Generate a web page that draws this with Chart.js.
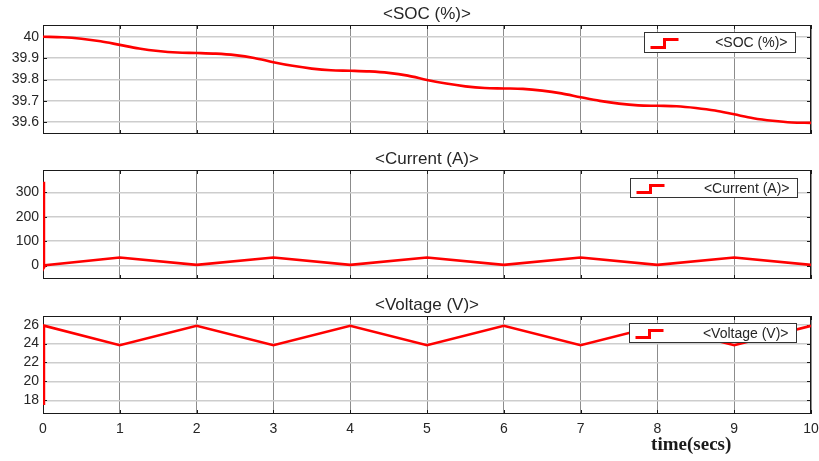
<!DOCTYPE html>
<html><head><meta charset="utf-8">
<script src="https://cdn.jsdelivr.net/npm/chart.js@4.4.0/dist/chart.umd.min.js"></script>
<style>
html,body{margin:0;padding:0;background:#fff;width:819px;height:461px;overflow:hidden;}
.p{position:absolute;left:0;width:819px;}
</style></head><body>
<div class="p" style="top:0;height:140px"><canvas id="c1"></canvas></div>
<div class="p" style="top:140px;height:145px"><canvas id="c2"></canvas></div>
<div class="p" style="top:285px;height:176px"><canvas id="c3"></canvas></div>
<script>
// ---- data ----
const timeTicks = [0,1,2,3,4,5,6,7,8,9,10];

const socTime = [0,0.25,0.5,0.75,1,1.25,1.5,1.75,2,2.25,2.5,2.75,3,3.25,3.5,3.75,4,4.25,4.5,4.75,5,5.25,5.5,5.75,6,6.25,6.5,6.75,7,7.25,7.5,7.75,8,8.25,8.5,8.75,9,9.25,9.5,9.75,10];
const socValues = [40.000,39.998,39.991,39.979,39.962,39.945,39.933,39.926,39.924,39.921,39.914,39.901,39.881,39.864,39.851,39.843,39.841,39.838,39.831,39.818,39.798,39.781,39.768,39.760,39.758,39.756,39.748,39.735,39.717,39.700,39.687,39.679,39.677,39.675,39.667,39.655,39.637,39.619,39.607,39.599,39.597];
const socTicks = [39.6,39.7,39.8,39.9,40];

const currentTime = [0.012,0.012,0.03,1,2,3,4,5,6,7,8,9,10];
const currentValues = [344,-8,2,33,3,33,3,33,3,33,3,33,3];
const currentTicks = [0,100,200,300];

const voltageTime = [0.012,0.012,1,2,3,4,5,6,7,8,9,10];
const voltageValues = [17.5,25.9,23.83,25.88,23.83,25.88,23.83,25.88,23.83,25.88,23.83,25.88];
const voltageTicks = [18,20,22,24,26];

const titles = ['<SOC (%)>', '<Current (A)>', '<Voltage (V)>'];
const legendLabels = ['<SOC (%)>', '<Current (A)>', '<Voltage (V)>'];
const xAxisLabel = 'time(secs)';

// ---- drawing ----
const TXT = '#262626';
const decor = {
  id: 'decor',
  beforeDatasetsDraw(chart, args, o) {
    const {ctx, chartArea: a} = chart;
    ctx.save();
    ctx.strokeStyle = '#1a1a1a';
    ctx.lineWidth = 1;
    ctx.beginPath();
    chart.scales.y.ticks.forEach(t => {
      const y = Math.round(chart.scales.y.getPixelForValue(t.value)) + 0.5;
      ctx.moveTo(a.left, y); ctx.lineTo(a.left + 4, y);
      ctx.moveTo(a.right, y); ctx.lineTo(a.right - 4, y);
    });
    chart.scales.x.ticks.forEach(t => {
      const x = Math.round(chart.scales.x.getPixelForValue(t.value)) + 0.5;
      ctx.moveTo(x, a.top); ctx.lineTo(x, a.top + 4);
      ctx.moveTo(x, a.bottom); ctx.lineTo(x, a.bottom - 4);
    });
    ctx.stroke();
    ctx.strokeRect(Math.round(a.left) + 0.5, Math.round(a.top) + 0.5, Math.round(a.right - a.left) - 1, Math.round(a.bottom - a.top) - 1);
    ctx.restore();
  },
  afterDatasetsDraw(chart, args, o) {
    const {ctx, chartArea: a} = chart;
    const L = o.legend;
    const bx = Math.round(a.right - L.right - L.width) + 0.5;
    const by = Math.round(a.top + L.top) + 0.5;
    ctx.save();
    ctx.fillStyle = '#fff';
    ctx.fillRect(bx, by, L.width, L.height);
    ctx.strokeStyle = '#333';
    ctx.lineWidth = 1;
    ctx.strokeRect(bx, by, L.width, L.height);
    const x0 = bx + 6, x1 = bx + 34, xm = (x0 + x1) / 2;
    const yb = by + L.height - 5, yt = by + 7;
    ctx.strokeStyle = '#ff0000';
    ctx.lineWidth = 3;
    ctx.beginPath();
    ctx.moveTo(x0, yb); ctx.lineTo(xm, yb); ctx.lineTo(xm, yt); ctx.lineTo(x1, yt);
    ctx.stroke();
    ctx.fillStyle = TXT;
    ctx.font = '14px "Liberation Sans", Arial, sans-serif';
    ctx.textAlign = 'right';
    ctx.textBaseline = 'middle';
    ctx.fillText(L.text, bx + L.width - 8, by + L.height / 2 + 1);
    ctx.restore();
  },
  afterDraw(chart, args, o) {
    const {ctx, chartArea: a} = chart;
    ctx.save();
    ctx.fillStyle = TXT;
    ctx.font = '17px "Liberation Sans", Arial, sans-serif';
    ctx.textAlign = 'center';
    ctx.textBaseline = 'middle';
    ctx.fillText(o.title, (a.left + a.right) / 2, a.top - 11);
    if (o.xLabel) {
      ctx.fillStyle = '#1a1a1a';
      ctx.font = 'bold 19px "Liberation Serif", "Times New Roman", serif';
      ctx.fillText(o.xLabel, a.left + (a.right - a.left) * 0.844, a.bottom + 31);
    }
    ctx.restore();
  }
};

function panel(id, times, values, yTicks, yMin, yMax, idx, legend, pad, showX, smooth) {
  const font = {family: '"Liberation Sans", Arial, sans-serif', size: 14};
  return new Chart(document.getElementById(id), {
    type: 'line',
    data: {
      datasets: [{
        data: times.map((t, i) => ({x: t, y: values[i]})),
        borderColor: '#ff0000',
        borderWidth: 2.6,
        pointRadius: 0,
        fill: false,
        cubicInterpolationMode: smooth ? 'monotone' : 'default',
        tension: 0
      }]
    },
    options: {
      responsive: true,
      maintainAspectRatio: false,
      animation: false,
      layout: {padding: {left: 0, right: 8, top: pad.top, bottom: pad.bottom}},
      plugins: {
        legend: {display: false},
        tooltip: {enabled: false},
        decor: {title: titles[idx], legend: Object.assign({text: legendLabels[idx]}, legend), xLabel: showX ? xAxisLabel : null}
      },
      scales: {
        x: {
          type: 'linear', min: 0, max: 10,
          afterBuildTicks: s => { s.ticks = timeTicks.map(v => ({value: v})); },
          afterFit: s => { s.height = showX ? 47 : 0; s.paddingLeft = 0; s.paddingRight = 0; },
          grid: {color: '#8c8c8c', lineWidth: 1, drawTicks: false},
          border: {display: false},
          ticks: {display: showX, padding: 7, color: TXT, font, maxRotation: 0, callback: v => String(v)}
        },
        y: {
          type: 'linear', min: yMin, max: yMax,
          afterBuildTicks: s => { s.ticks = yTicks.map(v => ({value: v})); },
          afterFit: s => { s.width = 43; s.paddingTop = 0; s.paddingBottom = 0; },
          grid: {color: '#cdcdcd', lineWidth: 1.5, drawTicks: false},
          border: {display: false},
          ticks: {padding: 4, color: TXT, font, callback: v => String(v)}
        }
      }
    },
    plugins: [decor]
  });
}

panel('c1', socTime, socValues, socTicks, 39.545, 40.055, 0,
  {right: 16, width: 151, top: 7, height: 20}, {top: 25, bottom: 6}, false, true);
panel('c2', currentTime, currentValues, currentTicks, -55, 392, 1,
  {right: 14, width: 167, top: 8, height: 19}, {top: 30, bottom: 6}, false, false);
panel('c3', voltageTime, voltageValues, voltageTicks, 16.55, 26.92, 2,
  {right: 15, width: 167, top: 7, height: 19}, {top: 31, bottom: 0}, true, false);
</script>
</body></html>
